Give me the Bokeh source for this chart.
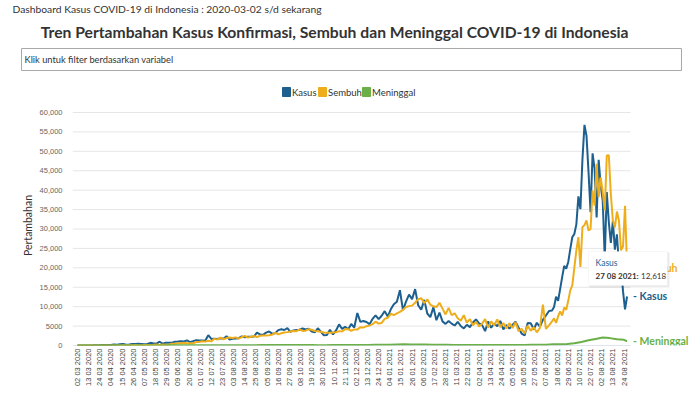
import numpy as np
from bokeh.plotting import figure
from bokeh.models import Range1d, FixedTicker, Label, BoxAnnotation, ColumnDataSource
from bokeh.core.properties import value
from bokeh.embed import file_html
from bokeh.resources import INLINE

# ---------------- texts ----------------
subtitle = "Dashboard Kasus COVID-19 di Indonesia : 2020-03-02 s/d sekarang"
title = "Tren Pertambahan Kasus Konfirmasi, Sembuh dan Meninggal COVID-19 di Indonesia"
filter_text = "Klik untuk filter berdasarkan variabel"
series_names = ["Kasus", "Sembuh", "Meninggal"]
y_axis_title = "Pertambahan"
tooltip_series = "Kasus"
tooltip_date = "27 08 2021:"
tooltip_value = "12,618"

x_tick_labels = ["02 03 2020", "13 03 2020", "24 03 2020", "04 04 2020", "15 04 2020", "26 04 2020",
                 "07 05 2020", "18 05 2020", "29 05 2020", "09 06 2020", "20 06 2020", "01 07 2020",
                 "12 07 2020", "23 07 2020", "03 08 2020", "14 08 2020", "25 08 2020", "05 09 2020",
                 "16 09 2020", "27 09 2020", "08 10 2020", "19 10 2020", "30 10 2020", "10 11 2020",
                 "21 11 2020", "02 12 2020", "13 12 2020", "24 12 2020", "04 01 2021", "15 01 2021",
                 "26 01 2021", "06 02 2021", "17 02 2021", "28 02 2021", "11 03 2021", "22 03 2021",
                 "02 04 2021", "13 04 2021", "24 04 2021", "05 05 2021", "16 05 2021", "27 05 2021",
                 "07 06 2021", "18 06 2021", "29 06 2021", "10 07 2021", "22 07 2021", "02 08 2021",
                 "13 08 2021", "24 08 2021"]
y_tick_values = [0, 5000, 10000, 15000, 20000, 25000, 30000, 35000, 40000, 45000, 50000, 55000, 60000]
y_tick_labels = ["0", "5000", "10,000", "15,000", "20,000", "25,000", "30,000", "35,000",
                 "40,000", "45,000", "50,000", "55,000", "60,000"]

# ---------------- data (day index since 02 03 2020) ----------------
day_idx = list(range(0, 468, 3)) + list(range(468, 543, 2))

kasus = [
    2, 0, 2, 7, 27, 38, 81, 64, 103, 130,
    149, 106, 247, 219, 316, 380, 185, 283, 396, 415,
    433, 395, 338, 387, 689, 529, 486, 973, 479, 687,
    700, 684, 993, 1043, 1111, 1017, 1331, 862, 1113, 1385,
    1293, 1301, 1209, 2657, 1681, 1752, 1693, 1882, 1761, 2381,
    1560, 1752, 1815, 1893, 2345, 2098, 2277, 2266, 2307, 3308,
    2858, 2743, 3308, 3622, 3046, 3141, 3963, 4168, 3989, 4465,
    3509, 3874, 4007, 4056, 4369, 4127, 4301, 3602, 3373, 4432,
    3565, 2617, 2696, 4065, 2853, 3880, 5444, 4262, 4792, 4192,
    5534, 4617, 8369, 6089, 6310, 6058, 5489, 6848, 7751, 6809,
    7650, 8854, 7445, 9321, 10617, 11278, 14224, 9086, 11287, 13094,
    11948, 14518, 10369, 9202, 11749, 8242, 7300, 9869, 6501, 8493,
    6208, 5560, 6331, 5633, 5144, 6114, 5012, 4396, 5338, 4723,
    5937, 6731, 5712, 5325, 3692, 6177, 4584, 5656, 4952, 6322,
    4143, 5241, 4369, 5285, 6130, 4608, 3080, 2600, 5797, 5746,
    4176, 5862, 4824, 6594, 7725, 8892,
    9000, 9900, 12600, 11500, 14500, 17600, 20500, 19800, 21500, 24800,
    27900, 28700, 31200, 38400, 35100, 47900, 56800, 54000, 44700, 34300,
    49500, 45400, 33000, 47800, 41200, 37300, 22400, 39500, 31800, 26400,
    32100, 24700, 28600, 20800, 20700, 14000, 9300, 12618]

sembuh = [
    0, 0, 0, 0, 2, 8, 3, 1, 4, 6,
    13, 14, 16, 30, 28, 46, 44, 40, 76, 100,
    55, 80, 121, 98, 125, 163, 252, 147, 229, 208,
    217, 470, 443, 591, 552, 712, 562, 567, 591, 876,
    884, 1072, 997, 1241, 1058, 1712, 1519, 2012, 1560, 1909,
    2032, 1952, 2093, 1779, 2134, 2477, 2034, 2251, 2453, 2176,
    2519, 2588, 2567, 2617, 2788, 3287, 2855, 3155, 3367, 3445,
    3598, 3714, 3689, 4128, 3742, 3809, 4207, 4049, 3727, 3691,
    3530, 3327, 3284, 3257, 3356, 3412, 3704, 3582, 4221, 4180,
    3798, 4143, 4094, 4726, 4625, 4974, 5114, 5485, 6135, 5643,
    5816, 6854, 7133, 8168, 7822, 8273, 8650, 9186, 9911, 10136,
    10271, 11012, 11924, 12200, 10900, 11900, 10500, 10100, 9900, 11000,
    9500, 8000, 9700, 7800, 8300, 7000, 6400, 7800, 5900, 6800,
    5200, 6100, 4900, 5600, 6800, 4600, 6200, 5200, 6700, 4700,
    5800, 4400, 5700, 4500, 6000, 3700, 4300, 3100, 5100, 3800,
    4700, 3400, 4500, 10500, 4300, 5200,
    6200, 7000, 5800, 7500, 8800, 7700, 9800, 9200, 11500, 14200,
    15500, 20000, 24500, 27900, 20200, 30500, 31000, 32200, 29600, 30000,
    39900, 36000, 46800, 38200, 43300, 39500, 34800, 48900, 49000, 39000,
    32200, 30400, 34500, 32200, 24500, 25500, 36000, 20000]

death_idx = list(range(0, 540, 7)) + [542]
meninggal = [
    0, 0, 5, 10, 10, 12, 45, 24, 9, 25,
    16, 20, 25, 40, 35, 40, 40, 60, 50, 60,
    60, 70, 70, 70, 80, 90, 100, 110, 115, 120,
    120, 110, 100, 100, 90, 90, 100, 110, 110, 130,
    150, 160, 200, 180, 200, 250, 300, 280, 250, 250,
    200, 200, 200, 150, 140, 130, 130, 120, 120, 130,
    130, 150, 150, 140, 170, 180, 200, 290, 350, 400,
    560, 890, 1340, 1700, 2050, 1900, 1600, 1450, 1100]

colors = ["#1d5f8e", "#eeae1c", "#6aaf47"]

# ---------------- header (titles, filter box, legend) ----------------
HEAD = 100
hdr = figure(width=700, height=HEAD, x_range=Range1d(0, 700), y_range=Range1d(HEAD, 0),
             toolbar_location=None, output_backend="svg", min_border=0,
             min_border_left=0, min_border_right=0, min_border_top=0, min_border_bottom=0)
hdr.axis.visible = False
hdr.grid.visible = False
hdr.outline_line_color = None
hdr.title.visible = False
hdr.text(x=[12], y=[8], text=[subtitle], text_font=value("Lato"), text_font_size="10.3px",
         text_color="#333333", text_baseline="middle")
hdr.text(x=[628], y=[31], text=[title], text_font=value("Lato"), text_font_size="15.7px",
         text_font_style="bold", text_color="#333333", text_align="right", text_baseline="middle")
hdr.quad(left=[21], right=[681], top=[48], bottom=[70], fill_color="white", line_color="#a8a8a8")
hdr.text(x=[24], y=[59], text=[filter_text], text_font=value("Lato"), text_font_size="9.3px",
         text_color="#333333", text_baseline="middle")

# legend: colored squares + series names
leg_x = [286, 322, 366]
hdr.rect(x=leg_x, y=[91.5] * 3, width=8, height=9, fill_color=colors, line_color=colors)
hdr.text(x=[x + 5.5 for x in leg_x], y=[92] * 3, text=series_names, text_font=value("Lato"),
         text_font_size="9.5px", text_color="#333333", text_baseline="middle")

# ---------------- main chart ----------------
H = 397 - HEAD
X0, X_PLOT_END = -4.9, 545.4
p = figure(width=700, height=H, x_range=Range1d(X0, 609.5), y_range=Range1d(0, 61800),
           toolbar_location=None, output_backend="svg",
           min_border_left=72, min_border_right=5, min_border_top=5, min_border_bottom=52)
p.title.visible = False
p.outline_line_color = None
p.grid.visible = False

# horizontal grid lines across the plot area only
p.segment(x0=[X0] * len(y_tick_values), x1=[X_PLOT_END] * len(y_tick_values),
          y0=y_tick_values, y1=y_tick_values, line_color="#e6e6e6", line_width=1)
p.segment(x0=[X0], x1=[X_PLOT_END], y0=[0], y1=[0], line_color="#ccd6eb", line_width=1)

p.yaxis.ticker = FixedTicker(ticks=y_tick_values)
p.yaxis.major_label_overrides = {v: s for v, s in zip(y_tick_values, y_tick_labels)}
p.yaxis.axis_line_color = None
p.yaxis.major_tick_line_color = None
p.yaxis.minor_tick_line_color = None
p.yaxis.major_label_text_font = "Liberation Sans"
p.yaxis.major_label_text_font_size = "7.5px"
p.yaxis.major_label_text_color = "#666666"
p.yaxis.major_label_standoff = 4
p.yaxis.axis_label = y_axis_title
p.yaxis.axis_label_text_font = "Lato"
p.yaxis.axis_label_text_font_size = "10.5px"
p.yaxis.axis_label_text_font_style = "normal"
p.yaxis.axis_label_text_color = "#333333"
p.yaxis.axis_label_standoff = 3

x_ticks = [11 * k for k in range(len(x_tick_labels))]
p.xaxis.ticker = FixedTicker(ticks=x_ticks)
p.xaxis.major_label_overrides = {t: s for t, s in zip(x_ticks, x_tick_labels)}
p.xaxis.major_label_orientation = np.pi / 2
p.xaxis.major_label_text_font = "Liberation Sans"
p.xaxis.major_label_text_font_size = "7.5px"
p.xaxis.major_label_text_color = "#444444"
p.xaxis.major_label_standoff = 3
p.xaxis.axis_line_color = None
p.xaxis.major_tick_out = 0
p.xaxis.major_tick_in = 0
p.xaxis.minor_tick_line_color = None

src = ColumnDataSource(dict(x=day_idx, kasus=kasus, sembuh=sembuh))
p.line("x", "kasus", source=src, line_color=colors[0], line_width=2)
p.line("x", "sembuh", source=src, line_color=colors[1], line_width=2)
p.line(death_idx, meninggal, line_color=colors[2], line_width=2)

# end-of-series labels
last_vals = [kasus[-1], sembuh[-1], meninggal[-1]]
last_x = [day_idx[-1], day_idx[-1], death_idx[-1]]
for n, c, xv, yv in zip(series_names, colors, last_x, last_vals):
    p.add_layout(Label(x=xv, y=yv, text="- " + n, x_offset=6, text_baseline="middle",
                       text_color=c, text_font="Lato", text_font_size="10.5px",
                       text_font_style="bold"))

# tooltip
p.add_layout(BoxAnnotation(left=589, right=669, top=152, bottom=187, left_units="canvas",
                           right_units="canvas", top_units="canvas", bottom_units="canvas",
                           fill_color="#000000", fill_alpha=0.08, line_color=None))
p.add_layout(BoxAnnotation(left=588, right=667, top=151, bottom=185, left_units="canvas",
                           right_units="canvas", top_units="canvas", bottom_units="canvas",
                           fill_color="white", fill_alpha=1, line_color="#e3e3e3", line_width=1))
tx, ty = day_idx[-1], kasus[-1]
p.add_layout(Label(x=tx, y=ty, x_offset=-31.5, y_offset=33, text=tooltip_series,
                   text_baseline="middle", text_color=colors[0], text_font="Lato",
                   text_font_size="8.5px"))
p.add_layout(Label(x=tx, y=ty, x_offset=-31.5, y_offset=20, text=tooltip_date,
                   text_baseline="middle", text_color="#333333", text_font="Lato",
                   text_font_size="8px", text_font_style="bold"))
p.add_layout(Label(x=tx, y=ty, x_offset=14, y_offset=20, text=tooltip_value,
                   text_baseline="middle", text_color="#333333", text_font="Lato",
                   text_font_size="8px"))

open("out.html", "w").write(file_html([hdr, p], INLINE))
